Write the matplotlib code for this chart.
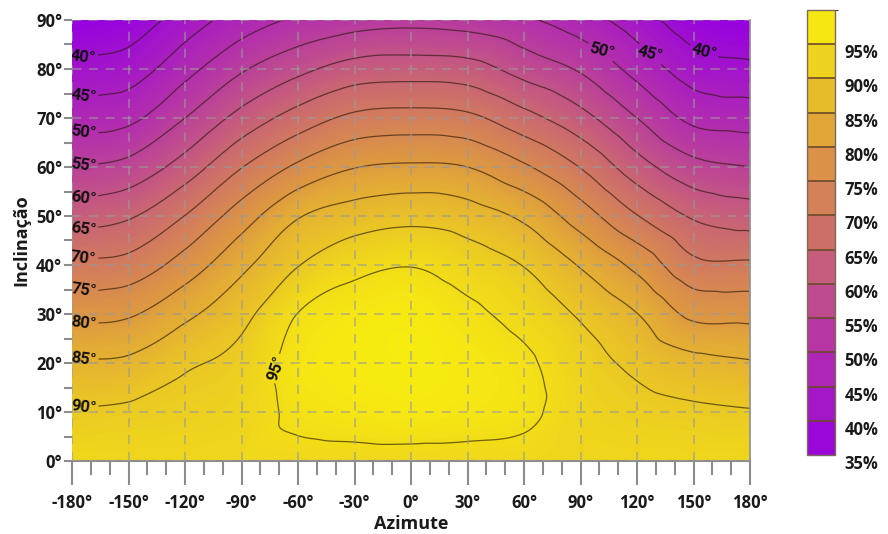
import numpy as np
import matplotlib
matplotlib.use('Agg')
import matplotlib.pyplot as plt
import matplotlib.tri as mtri
from matplotlib.colors import LinearSegmentedColormap, ListedColormap, BoundaryNorm, Normalize
from matplotlib.cm import ScalarMappable
from matplotlib.ticker import FixedLocator, MultipleLocator

plt.rcParams['font.family'] = ['Open Sans', 'DejaVu Sans']

azimutes = [-180, -150, -120, -90, -60, -30, 0, 30, 60, 90, 120, 150, 180]
inclinacoes = [0, 10, 20, 30, 40, 50, 60, 70, 80, 90]

# eficiencia (%), uma lista por inclinacao
ef_00 = [93.5, 93.5, 93.5, 93.5, 93.5, 93.5, 93.5, 93.5, 93.5, 93.5, 93.5, 93.5, 93.5]
ef_10 = [90.3, 90.8, 91.6, 92.6, 96.0, 97.0, 97.5, 97.0, 96.0, 92.8, 91.5, 90.8, 90.3]
ef_20 = [85.4, 85.9, 89.3, 91.4, 96.8, 98.0, 98.5, 97.5, 95.8, 92.0, 88.9, 86.4, 85.4]
ef_30 = [78.5, 79.4, 83.9, 88.5, 95.1, 97.3, 98.0, 96.0, 93.3, 89.4, 85.1, 78.9, 78.5]
ef_40 = [70.8, 71.8, 77.2, 83.8, 89.8, 93.5, 94.8, 92.6, 89.8, 84.6, 78.7, 71.3, 70.8]
ef_50 = [62.6, 64.4, 70.1, 77.5, 84.6, 87.3, 88.5, 87.3, 84.0, 77.5, 70.2, 64.4, 62.6]
ef_60 = [55.0, 56.6, 62.2, 69.8, 75.9, 79.8, 80.7, 80.0, 75.7, 69.8, 62.2, 56.6, 55.0]
ef_70 = [47.8, 48.8, 55.0, 61.7, 67.1, 71.1, 71.9, 71.1, 66.7, 61.7, 55.0, 48.8, 47.8]
ef_80 = [41.2, 42.5, 48.3, 54.4, 58.7, 62.0, 62.6, 62.0, 58.1, 54.4, 48.3, 42.5, 41.2]
ef_90 = [35.0, 37.0, 42.4, 47.3, 50.8, 52.8, 53.5, 52.8, 50.8, 47.3, 42.4, 37.0, 35.0]

niveis = [40, 45, 50, 55, 60, 65, 70, 75, 80, 85, 90, 95]
faixas = [35, 40, 45, 50, 55, 60, 65, 70, 75, 80, 85, 90, 95, 100]

# posicoes aproximadas dos rotulos das curvas
pos_rotulos = [(-174, 82), (-174, 74.5), (-174, 67), (-174, 60), (-174, 53.5), (-174, 47),
               (-174, 41), (-174, 34.5), (-174, 28), (-174, 21), (-174, 11),
               (100, 83), (127, 83), (156, 84), (-73, 19)]

# colormap violeta -> amarelo
cmap = LinearSegmentedColormap.from_list('ef', [
    (0.00, (0.59, 0.00, 0.88)),
    (0.23, (0.70, 0.18, 0.68)),
    (0.46, (0.79, 0.40, 0.45)),
    (0.69, (0.87, 0.60, 0.25)),
    (0.88, (0.93, 0.82, 0.12)),
    (1.00, (0.98, 0.94, 0.05)),
])
norm = Normalize(vmin=35, vmax=100)

Z = np.array([ef_00, ef_10, ef_20, ef_30, ef_40, ef_50, ef_60, ef_70, ef_80, ef_90])
AZ, INC = np.meshgrid(np.array(azimutes, float), np.array(inclinacoes, float))
nx = len(azimutes)
ny = len(inclinacoes)

# triangulos da grade (coordenadas normalizadas)
tris = []
for j in range(ny - 1):
    for i in range(nx - 1):
        a = j * nx + i
        tris.append([a, a + 1, a + nx + 1])
        tris.append([a, a + nx + 1, a + nx])
tri_n = mtri.Triangulation((AZ / 30).ravel(), (INC / 10).ravel(), np.array(tris))
interp = mtri.CubicTriInterpolator(tri_n, Z.ravel(), kind='geom')
refiner = mtri.UniformTriRefiner(tri_n)
tri_f, z_f = refiner.refine_field(Z.ravel(), triinterpolator=interp, subdiv=4)
tri_p = mtri.Triangulation(tri_f.x * 30, tri_f.y * 10, tri_f.triangles)

fig = plt.figure(figsize=(8.88, 5.34), dpi=100)
ax = fig.add_axes([72 / 888, 1 - 461 / 534, 678 / 888, 441 / 534])

ax.tricontourf(tri_p, z_f, levels=np.linspace(30, 100, 141), cmap=cmap, norm=norm, extend='both')
cs = ax.tricontour(tri_p, z_f, levels=niveis, colors='#2a1a0a', linewidths=0.9, alpha=0.65)
lbls = ax.clabel(cs, manual=pos_rotulos, inline=True, inline_spacing=2,
                 fmt=lambda v: f"{v:.0f}°", fontsize=12, colors='#111111')
for t in lbls:
    t.set_alpha(1)
    t.set_fontfamily(['Liberation Sans Narrow', 'Roboto', 'DejaVu Sans'])
    t.set_fontweight('bold')
    x0, y0 = t.get_position()
    if x0 < -150:
        t.set_rotation(-8)
    elif y0 > 70:
        t.set_rotation(-15)
    else:
        t.set_rotation(70)

ax.set_xlim(-180, 180)
ax.set_ylim(0, 90)
ax.xaxis.set_major_locator(FixedLocator(azimutes))
ax.xaxis.set_minor_locator(MultipleLocator(10))
ax.yaxis.set_major_locator(FixedLocator(inclinacoes))
ax.yaxis.set_minor_locator(MultipleLocator(5))
ax.set_xticklabels([f"{v}°" for v in azimutes])
ax.set_yticklabels([f"{v}°" for v in inclinacoes])

ax.tick_params(axis='x', which='major', length=17, width=1.5, color='#8c8c8c', pad=7,
               labelsize=12, labelcolor='#1a1a1a')
ax.tick_params(axis='x', which='minor', length=10, width=1.5, color='#8c8c8c')
ax.tick_params(axis='y', which='both', length=6, width=1.5, color='#8c8c8c', pad=1,
               labelsize=12, labelcolor='#1a1a1a')
for lab in ax.get_xticklabels() + ax.get_yticklabels():
    lab.set_fontweight('bold')

ax.grid(True, which='major', linestyle=(0, (6, 5)), color='#9a9a9a', alpha=0.75, linewidth=1.1)
ax.set_axisbelow(False)
for s in ['top', 'left']:
    ax.spines[s].set_visible(False)
ax.spines['bottom'].set_color('#8c8c8c')
ax.spines['bottom'].set_linewidth(1.5)
ax.spines['right'].set_color('#8c8c8c')
ax.spines['right'].set_linewidth(1.2)

ax.set_xlabel('Azimute', fontsize=13, fontweight='bold', color='#1a1a1a', labelpad=2)
ax.set_ylabel('Inclinação', fontsize=13, fontweight='bold', color='#1a1a1a', labelpad=4)

# barra de cores em faixas
centros = [(faixas[k] + faixas[k + 1]) / 2 for k in range(len(faixas) - 1)]
cores = [cmap(norm(c)) for c in centros]
sm = ScalarMappable(norm=BoundaryNorm(faixas, len(cores)), cmap=ListedColormap(cores))
cax = fig.add_axes([807 / 888, 1 - 455 / 534, 28 / 888, 445 / 534])
cb = fig.colorbar(sm, cax=cax, drawedges=True)
cb.outline.set_edgecolor('#7a6a5a')
cb.outline.set_linewidth(1.0)
cb.dividers.set_color('#6a4a2a')
cb.dividers.set_linewidth(1.2)
cb.set_ticks(faixas[:-1])
cb.set_ticklabels([f"{v}%" for v in faixas[:-1]])
cax.tick_params(length=0, pad=7, labelsize=12, labelcolor='#1a1a1a')
for lab in cax.get_yticklabels():
    lab.set_fontweight('bold')
    lab.set_va('top')

fig.savefig('out.png', dpi=100)
